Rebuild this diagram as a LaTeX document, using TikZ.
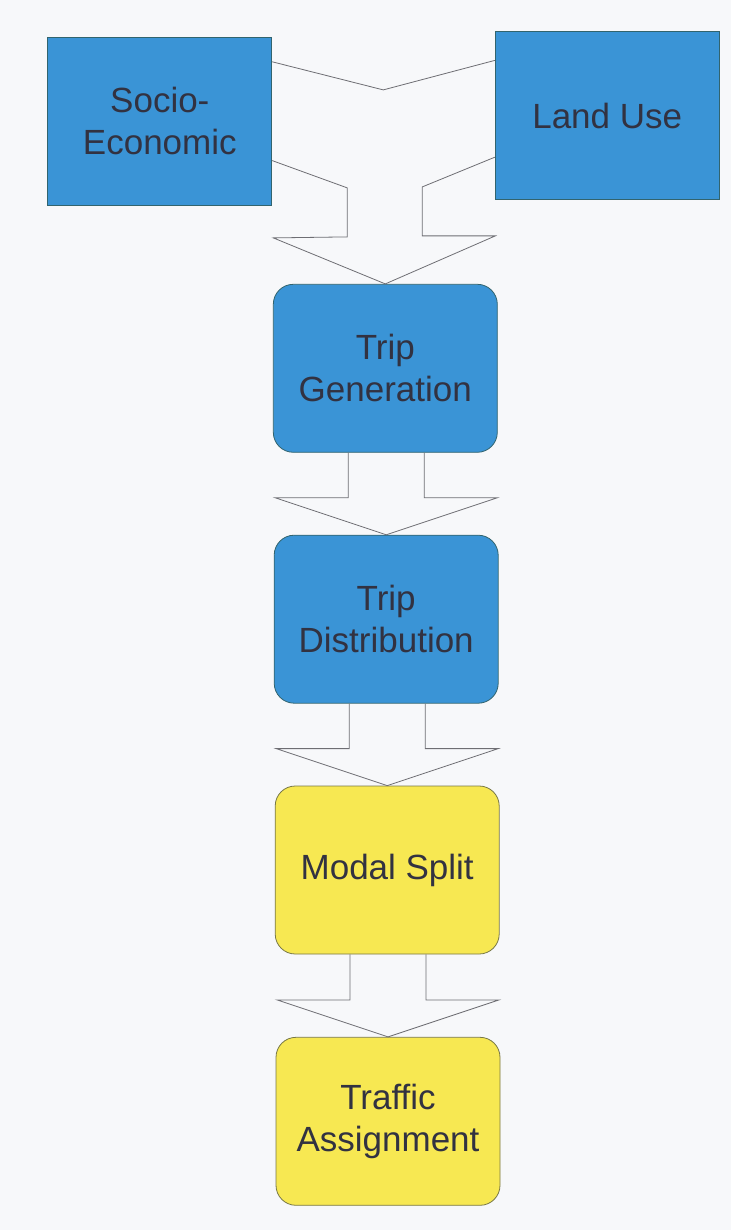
\documentclass[tikz,border=0pt]{standalone}
\usepackage{fontspec}
\setmainfont{Liberation Sans}
\usetikzlibrary{calc}
\definecolor{bg}{RGB}{247,248,250}
\definecolor{boxblue}{RGB}{58,148,214}
\definecolor{boxyellow}{RGB}{247,232,82}
\definecolor{blueedge}{RGB}{50,100,110}
\definecolor{yellowedge}{RGB}{120,120,70}
\definecolor{txt}{RGB}{50,50,65}
\definecolor{arrowgray}{RGB}{110,110,115}
\tikzset{
  basebox/.style={minimum width=224pt, minimum height=168pt, inner sep=0pt, align=center,
    text=txt, font=\fontsize{35}{42}\selectfont, line width=0.8pt},
  bluesq/.style={basebox, fill=boxblue, draw=blueedge},
  bluerd/.style={basebox, fill=boxblue, draw=blueedge, rounded corners=20pt},
  yellowrd/.style={basebox, fill=boxyellow, draw=yellowedge, rounded corners=20pt},
  arrowline/.style={draw=arrowgray, line width=0.8pt, line join=miter},
}
\newcommand{\downblock}[2]{%
  \draw[arrowline] ($(#2.north |- #1.south)+(-38,0)$) -- ($(#2.north)+(-38,-37)$) -- ($(#2.north)+(-111,-37)$)
    -- (#2.north) -- ($(#2.north)+(111,-37)$) -- ($(#2.north)+(38,-37)$) -- ($(#2.north |- #1.south)+(38,0)$);}
\begin{document}
\begin{tikzpicture}[x=1pt,y=-1pt]
\fill[bg] (0,0) rectangle (731,1230);
\useasboundingbox (0,0) rectangle (731,1230);

\node[bluesq] (se) at (159.8,121.2) {Socio-\\Economic};
\node[bluesq] (lu) at (607.2,115.8) {Land Use};
\node[bluerd] (tg) at (385.3,368.3) {Trip\\Generation};
\node[bluerd] (td) at (386.2,619.2) {Trip\\Distribution};
\node[yellowrd] (ms) at (387.2,870) {Modal Split};
\node[yellowrd] (ta) at (388,1121.3) {Traffic\\Assignment};

% merging block arrow from the two top boxes
\coordinate (vtip) at ($(tg.north)+(-2,-194)$);
\draw[arrowline]
  ($(se.north east)+(0,25)$) -- (vtip) -- ($(lu.north west)+(0,29)$);
\draw[arrowline]
  ($(se.south east)+(0,-45)$) -- ($(tg.north)+(-38,-96)$) -- ($(tg.north)+(-38,-47)$)
  -- ($(tg.north)+(-112,-46)$) -- (tg.north) -- ($(tg.north)+(110,-48)$)
  -- ($(tg.north)+(37,-48)$) -- ($(tg.north)+(37,-97)$) -- ($(lu.south west)+(0,-43)$);

\downblock{tg}{td}
\downblock{td}{ms}
\downblock{ms}{ta}
\end{tikzpicture}
\end{document}
